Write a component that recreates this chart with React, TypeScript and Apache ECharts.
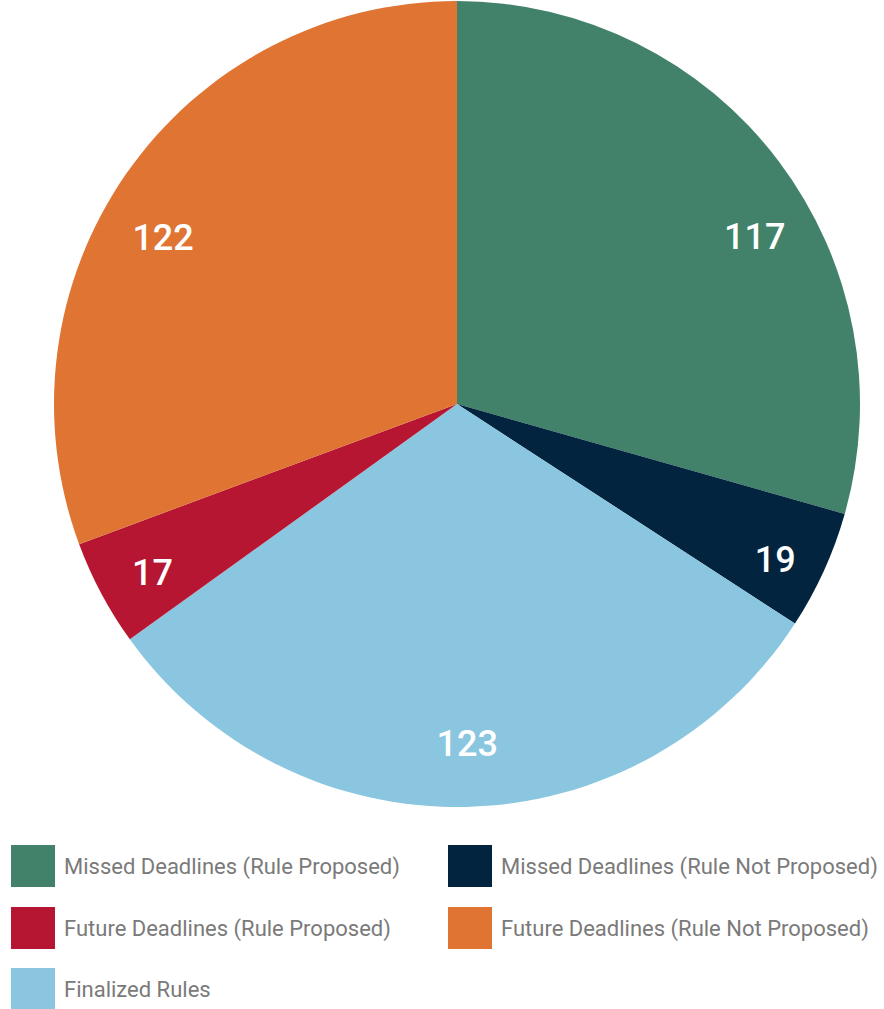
import React, { useEffect, useRef } from "react";
import * as echarts from "echarts";

const categories = [
  "Missed Deadlines (Rule Proposed)",
  "Missed Deadlines (Rule Not Proposed)",
  "Finalized Rules",
  "Future Deadlines (Rule Proposed)",
  "Future Deadlines (Rule Not Proposed)",
];
const values = [117, 19, 123, 17, 122];
const colors = ["#42826a", "#02243f", "#8ac6df", "#b61631", "#df7433"];

// legend layout order (two columns)
const legendOrder = [0, 1, 3, 4, 2];

// small label nudges (style only)
const labelNudges: [number, number][] = [
  [19, 44],
  [0, 11],
  [2, -9],
  [4, 5],
  [-7, 34],
];

export default function App() {
  const ref = useRef<HTMLDivElement>(null);
  useEffect(() => {
    document.body.style.margin = "0";
    const chart = echarts.init(ref.current!, undefined, { renderer: "svg" });
    const data = categories.map((name, i) => ({
      name,
      value: values[i],
      itemStyle: { color: colors[i] },
    }));
    const legendPos = [
      { left: 11, top: 845 },
      { left: 448, top: 845 },
      { left: 11, top: 907 },
      { left: 448, top: 907 },
      { left: 11, top: 968 },
    ];
    const legends = legendOrder.map((idx, k) => ({
      ...legendPos[k],
      orient: "horizontal",
      padding: 0,
      selectedMode: false,
      icon: "rect",
      itemWidth: 44,
      itemHeight: 42,
      data: [{ name: categories[idx], itemStyle: { color: colors[idx] } }],
      textStyle: {
        color: "#7a7a7a",
        fontSize: 22,
        fontFamily: "Roboto",
        padding: [0, 0, 0, 4],
      },
    }));
    chart.setOption({
      animation: false,
      legend: legends,
      series: [
        {
          type: "pie",
          center: [457, 404],
          radius: [0, 403],
          startAngle: 90,
          clockwise: true,
          data,
          label: { show: false },
          labelLine: { show: false },
          silent: true,
        },
        {
          type: "pie",
          center: [457, 404],
          radius: [290, 403],
          startAngle: 90,
          clockwise: true,
          data: categories.map((name, i) => ({
            name,
            value: values[i],
            itemStyle: { color: "rgba(0,0,0,0)" },
          })),
          silent: true,
          label: {
            show: true,
            position: "inside",
            formatter: "{c}",
            color: "#ffffff",
            fontSize: 36,
            fontWeight: 500,
            fontFamily: "Roboto",
          },
          labelLine: { show: false },
          labelLayout: (p: any) => ({
            dx: labelNudges[p.dataIndex][0],
            dy: labelNudges[p.dataIndex][1],
          }),
        },
      ],
    });
    return () => chart.dispose();
  }, []);
  return <div ref={ref} style={{ width: 884, height: 1009 }} />;
}
